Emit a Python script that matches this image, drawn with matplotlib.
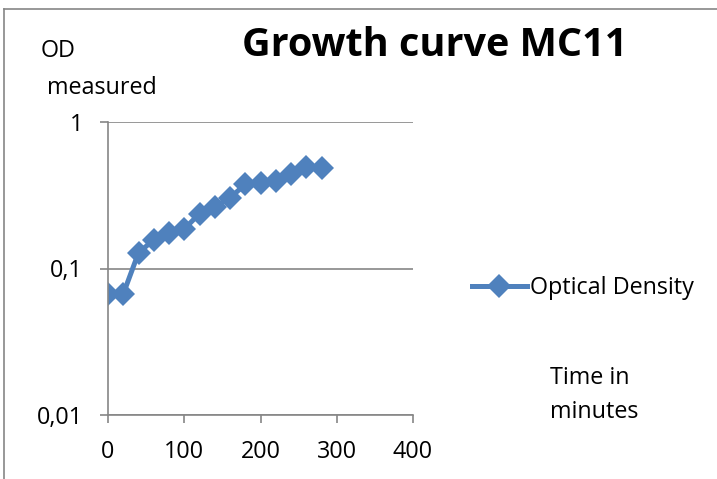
import matplotlib
matplotlib.use('Agg')
import matplotlib.pyplot as plt
from matplotlib.lines import Line2D
from matplotlib.ticker import FixedLocator, FixedFormatter, NullLocator

# data
time_min = [0, 20, 40, 60, 80, 100, 120, 140, 160, 180, 200, 220, 240, 260, 280]
od_values = [0.067, 0.067, 0.128, 0.157, 0.176, 0.186, 0.237, 0.264, 0.304,
             0.375, 0.383, 0.395, 0.445, 0.494, 0.486]
x_ticks = [0, 100, 200, 300, 400]
y_ticks = [0.01, 0.1, 1]
y_tick_labels = ["0,01", "0,1", "1"]

plt.rcParams['font.family'] = ['Open Sans', 'DejaVu Sans']

W, H = 717, 479
fig = plt.figure(figsize=(W / 100, H / 100), dpi=100)

# axes placement in pixel terms
left, right, top, bottom = 108, 413, 122, 415
ax = fig.add_axes([left / W, 1 - bottom / H, (right - left) / W, (bottom - top) / H])

blue = '#4F81BD'
grey = '#868686'
fs = 16.8

ax.plot(time_min, od_values, color=blue, lw=3.6, marker='D', ms=12.5,
        markeredgewidth=0, label='Optical Density')

ax.set_yscale('log')
ax.set_xlim(0, 400)
ax.set_ylim(0.01, 1)
ax.yaxis.set_major_locator(FixedLocator(y_ticks))
ax.yaxis.set_major_formatter(FixedFormatter(y_tick_labels))
ax.yaxis.set_minor_locator(NullLocator())
ax.set_xticks(x_ticks)
ax.grid(axis='y', color=grey, lw=1.2)
ax.set_axisbelow(True)
for s in ['top', 'right']:
    ax.spines[s].set_visible(False)
for s in ['left', 'bottom']:
    ax.spines[s].set_color(grey)
    ax.spines[s].set_linewidth(1.2)
ax.tick_params(axis='both', colors=grey, labelcolor='black', labelsize=fs,
               length=6, width=1.2)
ax.tick_params(axis='y', pad=12)
ax.tick_params(axis='x', pad=12)

# texts
fig.text(435 / W, 1 - 46 / H, 'Growth curve MC11', fontsize=28.5, fontweight='bold',
         ha='center', va='center')
fig.text(41 / W, 1 - 51 / H, 'OD', fontsize=fs, ha='left', va='center')
fig.text(47 / W, 1 - 88 / H, 'measured', fontsize=fs, ha='left', va='center')
fig.text(550 / W, 1 - 378 / H, 'Time in', fontsize=fs, ha='left', va='center')
fig.text(550 / W, 1 - 412 / H, 'minutes', fontsize=fs, ha='left', va='center')

fig.legend(loc='center left', bbox_to_anchor=(472 / W, 1 - 288 / H), frameon=False,
           fontsize=fs, borderpad=0, borderaxespad=0, handlelength=2.35,
           handletextpad=0.12)

# chart border (only left and top visible in the crop)
fig.add_artist(Line2D([4 / W, 4 / W], [0, 1 - 9 / H], color=grey, lw=1.2,
                      transform=fig.transFigure))
fig.add_artist(Line2D([4 / W, 1], [1 - 9 / H, 1 - 9 / H], color=grey, lw=1.2,
                      transform=fig.transFigure))

fig.savefig('out.png', dpi=100)
